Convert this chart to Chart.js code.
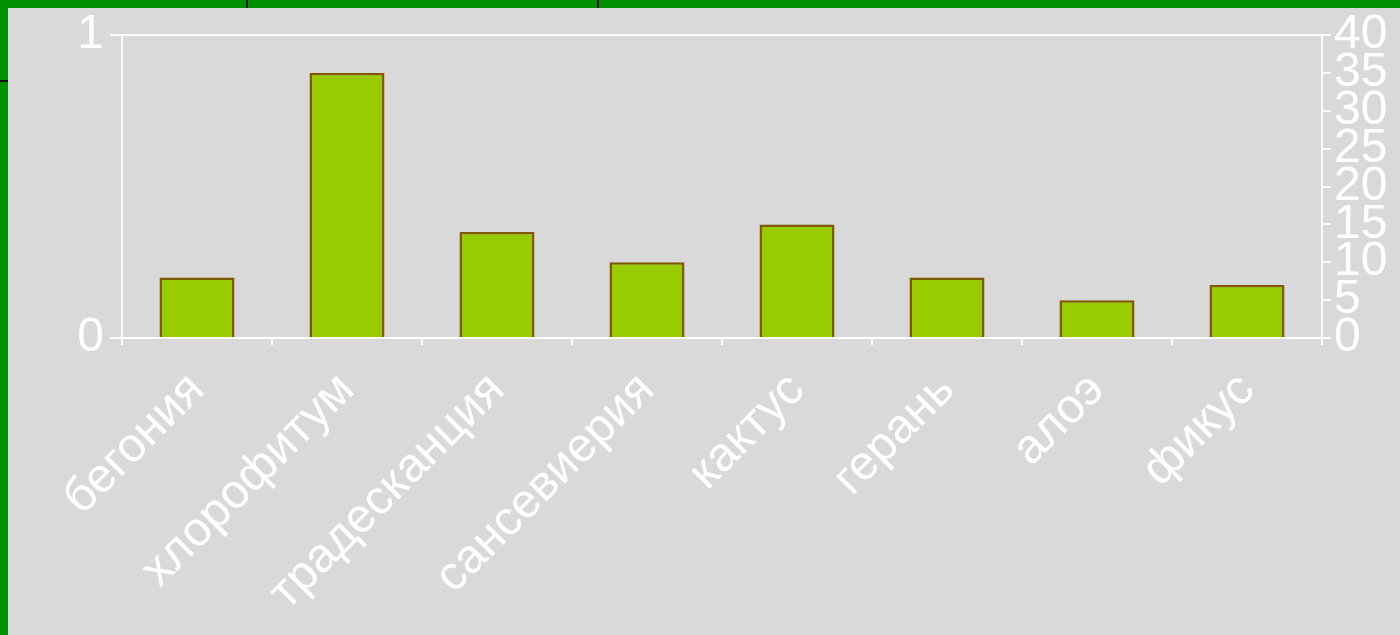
<!DOCTYPE html>
<html>
<head>
<meta charset="utf-8">
<script src="https://cdn.jsdelivr.net/npm/chart.js@4"></script>
<style>
  html, body { margin: 0; padding: 0; }
  body { width: 1400px; height: 635px; background: #d9d9d9; position: relative; overflow: hidden; }
  .g { position: absolute; background: #009000; }
  .k { position: absolute; background: #111; }
  #wrap { position: absolute; left: 0; top: 0; width: 1400px; height: 635px; }
</style>
</head>
<body>
<div class="g" style="left:0;top:0;width:1400px;height:8px"></div>
<div class="g" style="left:0;top:0;width:8px;height:635px"></div>
<div class="k" style="left:246px;top:0;width:2px;height:8px"></div>
<div class="k" style="left:597px;top:0;width:2px;height:8px"></div>
<div class="k" style="left:0;top:80px;width:8px;height:2px"></div>
<div id="wrap"><canvas id="c" width="1400" height="635"></canvas></div>
<script>
const categories = ['бегония', 'хлорофитум', 'традесканция', 'сансевиерия', 'кактус', 'герань', 'алоэ', 'фикус'];
const values = [8, 35, 14, 10, 15, 8, 5, 7];
const leftTicks = [0, 1];
const rightTicks = [0, 5, 10, 15, 20, 25, 30, 35, 40];

const lineCol = 'rgba(255,255,255,0.92)';
const txtCol = '#ffffff';
const fontFam = '"Liberation Sans", Arial, sans-serif';

new Chart(document.getElementById('c'), {
  type: 'bar',
  data: {
    labels: categories,
    datasets: [{
      data: values,
      yAxisID: 'y1',
      backgroundColor: '#99cc00',
      borderColor: '#7f5a00',
      borderWidth: 2.5,
      barPercentage: 0.5,
      categoryPercentage: 1.0
    }]
  },
  options: {
    responsive: false,
    animation: false,
    devicePixelRatio: 1,
    layout: { padding: { top: 35, left: 0, right: 0, bottom: 0 } },
    plugins: { legend: { display: false }, tooltip: { enabled: false } },
    scales: {
      x: {
        offset: true,
        grid: { display: true, drawOnChartArea: false, color: lineCol, lineWidth: 2, tickLength: 7, offset: true },
        border: { display: true, color: lineCol, width: 2 },
        ticks: { color: txtCol, font: { family: fontFam, size: 48 }, minRotation: 45, maxRotation: 45, autoSkip: false, padding: 17 },
        afterFit: (s) => { s.height = 297; }
      },
      y: {
        position: 'left',
        min: 0, max: 1,
        afterBuildTicks: (s) => { s.ticks = leftTicks.map(v => ({ value: v })); },
        grid: { display: true, drawOnChartArea: true, color: lineCol, lineWidth: 2, tickLength: 12 },
        border: { display: true, color: lineCol, width: 2 },
        ticks: { color: txtCol, font: { family: fontFam, size: 48 }, padding: 6, autoSkip: false },
        afterFit: (s) => { s.width = 122; }
      },
      y1: {
        position: 'right',
        min: 0, max: 40,
        afterBuildTicks: (s) => { s.ticks = rightTicks.map(v => ({ value: v })); },
        grid: { display: true, drawOnChartArea: false, color: lineCol, lineWidth: 2, tickLength: 9 },
        border: { display: true, color: lineCol, width: 2 },
        ticks: { color: txtCol, font: { family: fontFam, size: 48 }, padding: 3, autoSkip: false },
        afterFit: (s) => { s.width = 78; }
      }
    }
  }
});
</script>
</body>
</html>
